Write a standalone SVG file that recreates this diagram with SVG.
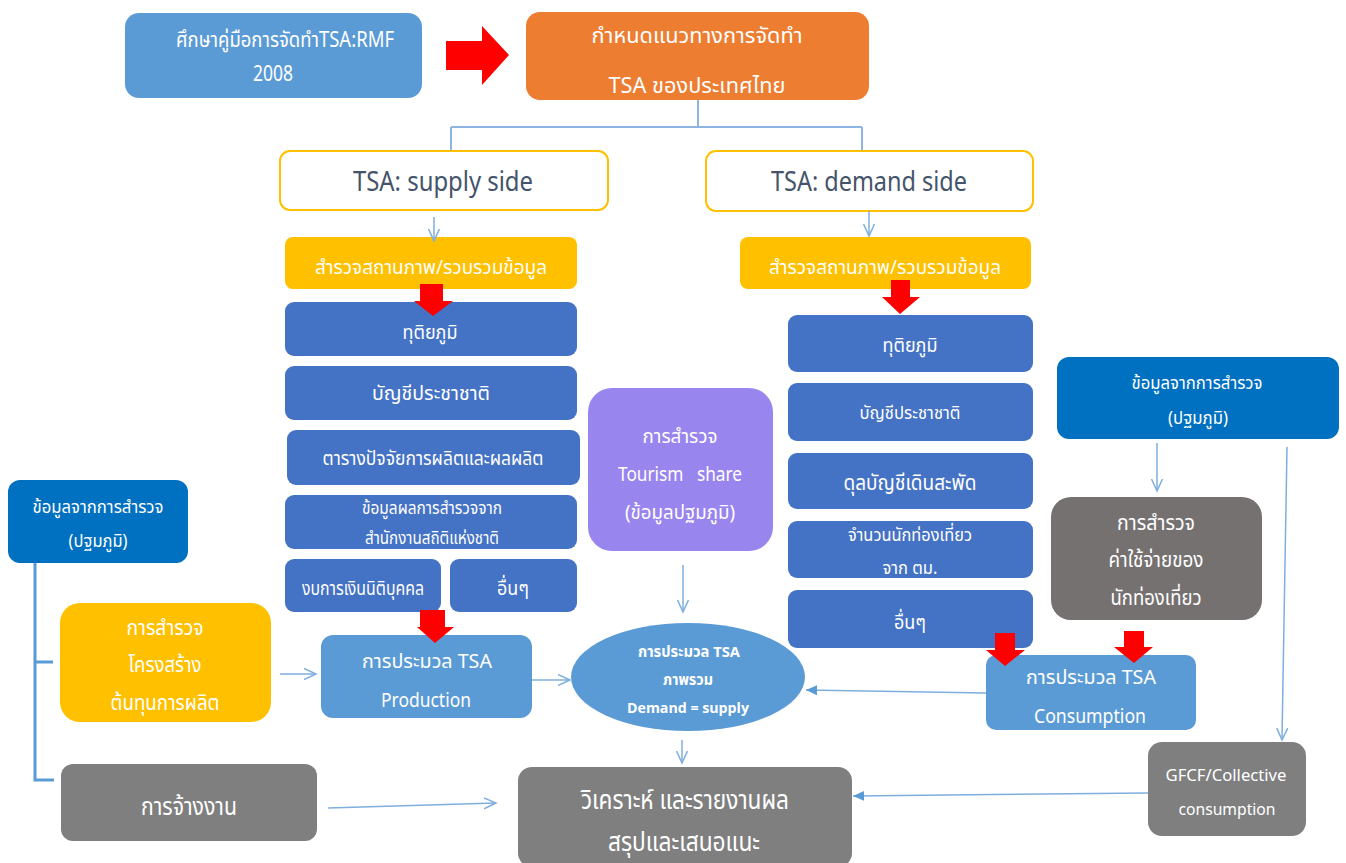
<svg xmlns="http://www.w3.org/2000/svg" width="1346" height="863" viewBox="0 0 1346 863">
<defs>
<style>
text{font-family:"Noto Sans Thai","Noto Sans","Liberation Sans",sans-serif;fill:#fff;text-anchor:middle}
.t{fill:#44546A}
.pre{white-space:pre}
.c{fill:none;stroke:#7FAEDD;stroke-width:1.5}
.tree{fill:none;stroke:#8DB4E2;stroke-width:2}
.br{fill:none;stroke:#5B9BD5;stroke-width:3}
.red{fill:#FF0000}
</style>
<marker id="open" markerUnits="userSpaceOnUse" markerWidth="14" markerHeight="14" viewBox="0 0 14 14" refX="12" refY="7" orient="auto">
<path d="M0,1.5 L12,7 L0,12.5" fill="none" stroke="#7FAEDD" stroke-width="1.5"/>
</marker>
<marker id="fill" markerUnits="userSpaceOnUse" markerWidth="12" markerHeight="12" viewBox="0 0 12 12" refX="11" refY="6" orient="auto">
<path d="M0,1 L11,6 L0,11 Z" fill="#5B9BD5"/>
</marker>
</defs>
<rect width="1346" height="863" fill="#fff"/>

<g id="n-study">
<rect x="125" y="13" width="297" height="85" rx="14" fill="#5B9BD5"/>
<text x="285" y="47" font-size="21" textLength="218" lengthAdjust="spacingAndGlyphs">ศึกษาคู่มือการจัดทำTSA:RMF</text>
<text x="273" y="81" font-size="21" textLength="40" lengthAdjust="spacingAndGlyphs">2008</text>
</g>
<g id="n-guideline">
<rect x="526" y="12" width="343" height="88" rx="14" fill="#ED7D31"/>
<text x="697" y="43" font-size="22" textLength="211" lengthAdjust="spacingAndGlyphs">กำหนดแนวทางการจัดทำ</text>
<text x="697" y="93" font-size="22" textLength="177" lengthAdjust="spacingAndGlyphs">TSA ของประเทศไทย</text>
</g>
<g id="n-supply">
<rect x="280" y="151" width="328" height="59" rx="10" fill="#fff" stroke="#FFC000" stroke-width="2"/>
<text class="t" x="443" y="191" font-size="27" textLength="180" lengthAdjust="spacingAndGlyphs">TSA: supply side</text>
</g>
<g id="n-demand">
<rect x="706" y="151" width="327" height="60" rx="10" fill="#fff" stroke="#FFC000" stroke-width="2"/>
<text class="t" x="869" y="191" font-size="27" textLength="196" lengthAdjust="spacingAndGlyphs">TSA: demand side</text>
</g>
<g id="n-supply-survey">
<rect x="285" y="237" width="292" height="52" rx="8" fill="#FFC000"/>
<text x="431" y="274" font-size="20" textLength="232" lengthAdjust="spacingAndGlyphs">สำรวจสถานภาพ/รวบรวมข้อมูล</text>
</g>
<g id="n-demand-survey">
<rect x="740" y="237" width="291" height="52" rx="8" fill="#FFC000"/>
<text x="885" y="274" font-size="20" textLength="232" lengthAdjust="spacingAndGlyphs">สำรวจสถานภาพ/รวบรวมข้อมูล</text>
</g>

<g id="n-s-secondary">
<rect x="285" y="302" width="292" height="54" rx="9" fill="#4472C4"/>
<text x="430" y="339" font-size="20" textLength="55" lengthAdjust="spacingAndGlyphs">ทุติยภูมิ</text>
</g>
<g id="n-s-national">
<rect x="285" y="366" width="292" height="54" rx="9" fill="#4472C4"/>
<text x="431" y="400" font-size="20" textLength="118" lengthAdjust="spacingAndGlyphs">บัญชีประชาชาติ</text>
</g>
<g id="n-s-io">
<rect x="287" y="430" width="293" height="55" rx="9" fill="#4472C4"/>
<text x="433" y="465" font-size="20" textLength="221" lengthAdjust="spacingAndGlyphs">ตารางปัจจัยการผลิตและผลผลิต</text>
</g>
<g id="n-s-nso">
<rect x="285" y="495" width="292" height="54" rx="9" fill="#4472C4"/>
<text x="432" y="514" font-size="18" textLength="140" lengthAdjust="spacingAndGlyphs">ข้อมูลผลการสำรวจจาก</text>
<text x="432" y="544" font-size="18" textLength="134" lengthAdjust="spacingAndGlyphs">สำนักงานสถิติแห่งชาติ</text>
</g>
<g id="n-s-fin">
<rect x="285" y="559" width="156" height="53" rx="9" fill="#4472C4"/>
<text x="363" y="595" font-size="19" textLength="122" lengthAdjust="spacingAndGlyphs">งบการเงินนิติบุคคล</text>
</g>
<g id="n-s-other">
<rect x="450" y="559" width="127" height="53" rx="9" fill="#4472C4"/>
<text x="513" y="595" font-size="20" textLength="32" lengthAdjust="spacingAndGlyphs">อื่นๆ</text>
</g>

<g id="n-d-secondary">
<rect x="788" y="315" width="245" height="57" rx="9" fill="#4472C4"/>
<text x="910" y="352" font-size="20" textLength="55" lengthAdjust="spacingAndGlyphs">ทุติยภูมิ</text>
</g>
<g id="n-d-national">
<rect x="788" y="383" width="245" height="58" rx="9" fill="#4472C4"/>
<text x="910" y="419" font-size="18" textLength="101" lengthAdjust="spacingAndGlyphs">บัญชีประชาชาติ</text>
</g>
<g id="n-d-bop">
<rect x="788" y="453" width="245" height="56" rx="9" fill="#4472C4"/>
<text x="910" y="490" font-size="21" textLength="133" lengthAdjust="spacingAndGlyphs">ดุลบัญชีเดินสะพัด</text>
</g>
<g id="n-d-tourists">
<rect x="788" y="521" width="245" height="57" rx="9" fill="#4472C4"/>
<text x="910" y="541" font-size="18" textLength="124" lengthAdjust="spacingAndGlyphs">จำนวนนักท่องเที่ยว</text>
<text x="910" y="574" font-size="18" textLength="55" lengthAdjust="spacingAndGlyphs">จาก ตม.</text>
</g>
<g id="n-d-other">
<rect x="788" y="590" width="245" height="58" rx="9" fill="#4472C4"/>
<text x="910" y="629" font-size="20" textLength="32" lengthAdjust="spacingAndGlyphs">อื่นๆ</text>
</g>

<g id="n-tourism-share">
<rect x="588" y="388" width="185" height="163" rx="24" fill="#9985EE"/>
<text x="680" y="443" font-size="20" textLength="75" lengthAdjust="spacingAndGlyphs">การสำรวจ</text>
<text class="pre" x="680" y="481" font-size="20" textLength="124" lengthAdjust="spacingAndGlyphs" xml:space="preserve">Tourism   share</text>
<text x="680" y="519" font-size="20" textLength="110" lengthAdjust="spacingAndGlyphs">(ข้อมูลปฐมภูมิ)</text>
</g>

<g id="n-survey-right">
<rect x="1057" y="357" width="282" height="82" rx="12" fill="#0070C0"/>
<text x="1197" y="389" font-size="18" textLength="131" lengthAdjust="spacingAndGlyphs">ข้อมูลจากการสำรวจ</text>
<text x="1198" y="424" font-size="18" textLength="60" lengthAdjust="spacingAndGlyphs">(ปฐมภูมิ)</text>
</g>
<g id="n-expense-survey">
<rect x="1051" y="497" width="211" height="123" rx="20" fill="#767171"/>
<text x="1156" y="530" font-size="21" textLength="78" lengthAdjust="spacingAndGlyphs">การสำรวจ</text>
<text x="1156" y="567" font-size="21" textLength="95" lengthAdjust="spacingAndGlyphs">ค่าใช้จ่ายของ</text>
<text x="1156" y="605" font-size="21" textLength="91" lengthAdjust="spacingAndGlyphs">นักท่องเที่ยว</text>
</g>

<g id="n-survey-left">
<rect x="8" y="480" width="180" height="83" rx="12" fill="#0070C0"/>
<text x="98" y="513" font-size="18" textLength="131" lengthAdjust="spacingAndGlyphs">ข้อมูลจากการสำรวจ</text>
<text x="98" y="547" font-size="18" textLength="59" lengthAdjust="spacingAndGlyphs">(ปฐมภูมิ)</text>
</g>
<g id="n-cost-survey">
<rect x="60" y="603" width="211" height="119" rx="20" fill="#FFC000"/>
<text x="165" y="635" font-size="22" textLength="77" lengthAdjust="spacingAndGlyphs">การสำรวจ</text>
<text x="165" y="672" font-size="22" textLength="73" lengthAdjust="spacingAndGlyphs">โครงสร้าง</text>
<text x="165" y="710" font-size="22" textLength="109" lengthAdjust="spacingAndGlyphs">ต้นทุนการผลิต</text>
</g>
<g id="n-production">
<rect x="321" y="635" width="211" height="83" rx="12" fill="#5B9BD5"/>
<text x="427" y="668" font-size="20" textLength="130" lengthAdjust="spacingAndGlyphs">การประมวล TSA</text>
<text x="426" y="707" font-size="20" textLength="90" lengthAdjust="spacingAndGlyphs">Production</text>
</g>
<g id="n-employment">
<rect x="61" y="764" width="256" height="77" rx="12" fill="#7F7F7F"/>
<text x="189" y="815" font-size="24" textLength="96" lengthAdjust="spacingAndGlyphs">การจ้างงาน</text>
</g>
<g id="n-overall">
<ellipse cx="688" cy="677" rx="117" ry="54" fill="#5B9BD5"/>
<text x="689" y="657" font-size="15" font-weight="bold" textLength="102" lengthAdjust="spacingAndGlyphs">การประมวล TSA</text>
<text x="688" y="685" font-size="15" font-weight="bold" textLength="50" lengthAdjust="spacingAndGlyphs">ภาพรวม</text>
<text x="688" y="713" font-size="15" font-weight="bold" textLength="122" lengthAdjust="spacingAndGlyphs">Demand = supply</text>
</g>
<g id="n-consumption">
<rect x="986" y="655" width="210" height="75" rx="10" fill="#5B9BD5"/>
<text x="1091" y="684" font-size="20" textLength="130" lengthAdjust="spacingAndGlyphs">การประมวล TSA</text>
<text x="1090" y="723" font-size="20" textLength="112" lengthAdjust="spacingAndGlyphs">Consumption</text>
</g>
<g id="n-gfcf">
<rect x="1148" y="742" width="158" height="94" rx="14" fill="#7F7F7F"/>
<text x="1226" y="781" font-size="17" textLength="121" lengthAdjust="spacingAndGlyphs">GFCF/Collective</text>
<text x="1227" y="815" font-size="17" textLength="97" lengthAdjust="spacingAndGlyphs">consumption</text>
</g>
<g id="n-analysis">
<rect x="518" y="767" width="334" height="100" rx="14" fill="#7F7F7F"/>
<text x="685" y="809" font-size="26" textLength="208" lengthAdjust="spacingAndGlyphs">วิเคราะห์ และรายงานผล</text>
<text x="684" y="851" font-size="26" textLength="152" lengthAdjust="spacingAndGlyphs">สรุปและเสนอแนะ</text>
</g>

<g id="connectors">
<path class="tree" d="M698,100 V127 M451,127 H862 M451,127 V150 M862,127 V150"/>
<path class="br" d="M35,563 V780 H54 M35,662 H53"/>
<path class="c" d="M434,217 V241" marker-end="url(#open)"/>
<path class="c" d="M869,211 V236" marker-end="url(#open)"/>
<path class="c" d="M683,565 V612" marker-end="url(#open)"/>
<path class="c" d="M682,740 V763" marker-end="url(#open)"/>
<path class="c" d="M280,674 H316" marker-end="url(#open)"/>
<path class="c" d="M532,680 H570" marker-end="url(#open)"/>
<path class="c" d="M1157,443 V491" marker-end="url(#open)"/>
<path class="c" d="M1287,447 L1282,740" marker-end="url(#open)"/>
<path class="c" d="M328,808 L496,803" marker-end="url(#open)"/>
<path class="c" d="M986,693 L806,690" marker-end="url(#fill)"/>
<path class="c" d="M1148,793 L853,796" marker-end="url(#fill)"/>
<polygon class="red" points="446,41 482,41 482,26 509,55 482,85 482,70 446,70"/>
<polygon class="red" points="420,284 443,284 443,301 453,301 433,316 414,301 420,301"/>
<polygon class="red" points="891,280 910,280 910,297 920,297 900,314 882,297 891,297"/>
<polygon class="red" points="420,610 445,610 445,627 454,627 435,643 417,627 420,627"/>
<polygon class="red" points="995,633 1015,633 1015,650 1025,650 1005,666 986,650 995,650"/>
<polygon class="red" points="1124,631 1144,631 1144,647 1153,647 1134,663 1114,647 1124,647"/>
</g>
</svg>
